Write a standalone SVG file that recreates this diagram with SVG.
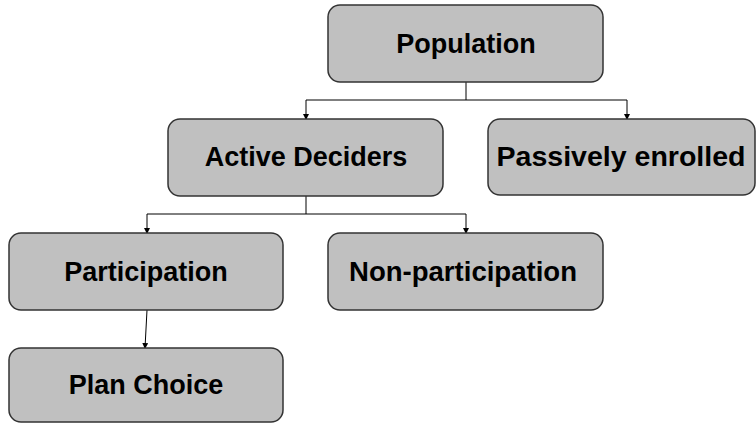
<svg xmlns="http://www.w3.org/2000/svg" width="756" height="423" viewBox="0 0 756 423">
<style>
.box{fill:#c0c0c0;stroke:#333333;stroke-width:1.5}
.lbl{font-family:"Liberation Sans",Arial,sans-serif;font-weight:bold;font-size:27px;fill:#000;text-anchor:middle}
.ln{fill:none;stroke:#000;stroke-width:1}
</style>
<defs>
<marker id="ah" markerWidth="6" markerHeight="6" refX="5" refY="3" orient="auto" markerUnits="userSpaceOnUse">
<path d="M0,0 L6,3 L0,6 Z" fill="#000"/>
</marker>
</defs>
<rect width="756" height="423" fill="#fff"/>
<g id="connectors">
<path class="ln" d="M466,82 V100" stroke-width="1.5"/>
<path class="ln" d="M306,100 H627"/>
<path class="ln" d="M306,100 V119" marker-end="url(#ah)"/>
<path class="ln" d="M627,100 V119" marker-end="url(#ah)"/>
<path class="ln" d="M306,196 V214" stroke-width="1.5"/>
<path class="ln" d="M147,214 H466"/>
<path class="ln" d="M147,214 V233" marker-end="url(#ah)"/>
<path class="ln" d="M466,214 V233" marker-end="url(#ah)"/>
<path class="ln" d="M147,310 L145,348" marker-end="url(#ah)"/>
</g>
<g id="population">
<rect class="box" x="328" y="5" width="275" height="77" rx="12"/>
<text class="lbl" x="466" y="53">Population</text>
</g>
<g id="active-deciders">
<rect class="box" x="168" y="119" width="275" height="77" rx="12"/>
<text class="lbl" x="306" y="166">Active Deciders</text>
</g>
<g id="passively-enrolled">
<rect class="box" x="488" y="119" width="267" height="76" rx="12"/>
<text class="lbl" x="621" y="166" textLength="249" lengthAdjust="spacingAndGlyphs">Passively enrolled</text>
</g>
<g id="participation">
<rect class="box" x="9" y="233" width="274" height="77" rx="12"/>
<text class="lbl" x="146" y="281">Participation</text>
</g>
<g id="non-participation">
<rect class="box" x="328" y="233" width="275" height="77" rx="12"/>
<text class="lbl" x="463" y="281" textLength="228" lengthAdjust="spacingAndGlyphs">Non-participation</text>
</g>
<g id="plan-choice">
<rect class="box" x="9" y="348" width="274" height="74" rx="12"/>
<text class="lbl" x="146" y="394">Plan Choice</text>
</g>
</svg>
